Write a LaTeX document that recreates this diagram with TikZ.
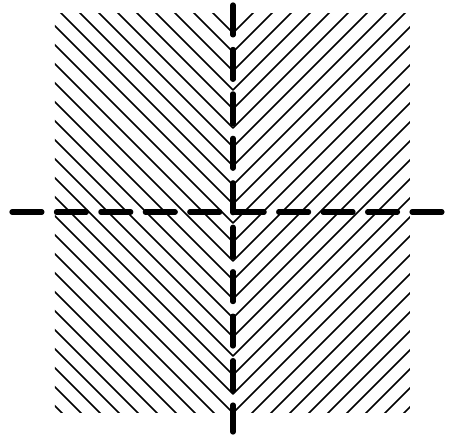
\documentclass[tikz,border=0pt]{standalone}
\usepackage{tikz}
\usetikzlibrary{positioning}

\begin{document}
\begin{tikzpicture}[x=0.02cm, y=-0.02cm,
  hatchline/.style={line width=1pt, line cap=round, line join=round},
  axisline/.style={line width=3pt, line cap=round, dash pattern=on 17pt off 8.3pt}]
\useasboundingbox (0,0) rectangle (451,436);
\coordinate (top) at (233,5);
\coordinate (bot) at (233,432);
\coordinate (lft) at (12,212);
\coordinate (rgt) at (445,212);
% chevron hatching, clipped to the panel
\begin{scope}
\clip (55,14) rectangle (410,413);
\foreach \v in {14,33,...,610}
  \draw[hatchline] (33,\v-200) -- (233,\v) -- (433,\v-200);
\end{scope}
\draw[axisline] (top) -- (bot);
\draw[axisline] (lft) -- (rgt);
\end{tikzpicture}
\end{document}
